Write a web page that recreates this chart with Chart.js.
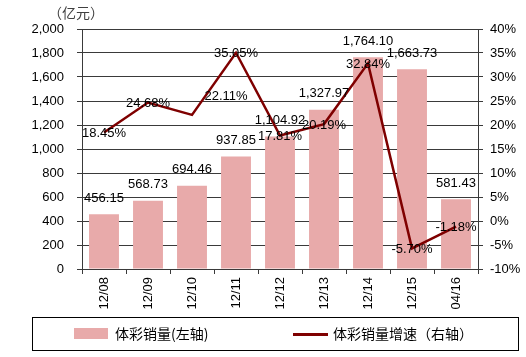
<!DOCTYPE html>
<html>
<head>
<meta charset="utf-8">
<script src="https://cdn.jsdelivr.net/npm/chart.js@4.4.0/dist/chart.umd.min.js"></script>
<style>
  html, body { margin: 0; padding: 0; background: #fff; }
  #wrap { width: 526px; height: 357px; position: relative; }
</style>
</head>
<body>
<div id="wrap"><canvas id="c" width="526" height="357"></canvas></div>
<script>
const categories = ['12/08', '12/09', '12/10', '12/11', '12/12', '12/13', '12/14', '12/15', '04/16'];
const salesValues = [456.15, 568.73, 694.46, 937.85, 1104.92, 1327.97, 1764.10, 1663.73, 581.43];
const growthValues = [18.45, 24.68, 22.11, 35.05, 17.81, 20.19, 32.84, -5.70, -1.18];
const leftAxisRange = [0, 2000, 200];
const rightAxisRange = [-10, 40, 5];
const unitLabel = '（亿元）';
const salesLabel = '体彩销量(左轴)';
const growthLabel = '体彩销量增速（右轴）';

const BAR_COLOR = '#E8AAAA';
const LINE_COLOR = '#7F0000';
const GRID_COLOR = '#3a3a3a';
const TEXT_FONT = '"Liberation Sans", Arial, sans-serif';
const CJK_FONT = '"Noto Sans CJK SC", sans-serif';

const numFmt = new Intl.NumberFormat('en-US', { minimumFractionDigits: 2, maximumFractionDigits: 2 });

const labelsPlugin = {
  id: 'customLabels',
  afterDatasetsDraw(chart, args, opts) {
    const ctx = chart.ctx;
    ctx.save();
    ctx.font = '13px ' + TEXT_FONT;
    ctx.fillStyle = '#000';
    ctx.textAlign = 'center';
    ctx.textBaseline = 'middle';
    const barMeta = chart.getDatasetMeta(0);
    barMeta.data.forEach((el, i) => {
      ctx.fillText(numFmt.format(chart.data.datasets[0].data[i]), el.x, el.y - 16);
    });
    const lineMeta = chart.getDatasetMeta(1);
    const offsets = opts.lineLabelOffsets || {};
    lineMeta.data.forEach((el, i) => {
      const off = offsets[i] || [0, 1];
      ctx.fillText(chart.data.datasets[1].data[i].toFixed(2) + '%', el.x + off[0], el.y + off[1]);
    });
    ctx.restore();
  },
  afterDraw(chart, args, opts) {
    const ctx = chart.ctx;
    ctx.save();
    // unit label
    ctx.font = '14px ' + CJK_FONT;
    ctx.fillStyle = '#404040';
    ctx.textAlign = 'left';
    ctx.textBaseline = 'middle';
    ctx.fillText(unitLabel, 48, 13);
    // legend box
    ctx.strokeStyle = '#000';
    ctx.lineWidth = 1;
    ctx.strokeRect(32.5, 317.5, 486, 33);
    const ds = chart.data.datasets;
    ctx.fillStyle = ds[0].backgroundColor;
    ctx.fillRect(74, 328, 34, 11);
    ctx.fillStyle = '#000';
    ctx.font = '14px ' + CJK_FONT;
    ctx.fillText(ds[0].label, 115, 334);
    ctx.strokeStyle = ds[1].borderColor;
    ctx.lineWidth = 3;
    ctx.beginPath();
    ctx.moveTo(293, 334.5);
    ctx.lineTo(328, 334.5);
    ctx.stroke();
    ctx.fillText(ds[1].label, 333, 334);
    ctx.restore();
  }
};

new Chart(document.getElementById('c'), {
  data: {
    labels: categories,
    datasets: [
      {
        type: 'bar',
        label: salesLabel,
        data: salesValues,
        yAxisID: 'y',
        backgroundColor: BAR_COLOR,
        borderWidth: 0,
        categoryPercentage: 1,
        barPercentage: 0.68,
        order: 2
      },
      {
        type: 'line',
        label: growthLabel,
        data: growthValues,
        yAxisID: 'y1',
        borderColor: LINE_COLOR,
        backgroundColor: LINE_COLOR,
        borderWidth: 2.5,
        pointRadius: 0,
        tension: 0,
        order: 1
      }
    ]
  },
  options: {
    responsive: false,
    animation: false,
    devicePixelRatio: 1,
    layout: { padding: { top: 29, left: 0, right: 0, bottom: 0 } },
    plugins: {
      legend: { display: false },
      tooltip: { enabled: false },
      customLabels: { lineLabelOffsets: { 2: [34, -18] } }
    },
    scales: {
      x: {
        type: 'category',
        offset: true,
        grid: { offset: true, drawOnChartArea: false, drawTicks: true, tickLength: 5, color: GRID_COLOR },
        border: { color: GRID_COLOR, width: 1 },
        ticks: { minRotation: 90, maxRotation: 90, padding: 3, color: '#000', font: { family: TEXT_FONT, size: 13 } },
        afterFit(scale) { scale.height = 88; }
      },
      y: {
        position: 'left',
        min: leftAxisRange[0],
        max: leftAxisRange[1],
        grid: { color: GRID_COLOR, lineWidth: 1, tickLength: 5 },
        border: { color: GRID_COLOR, width: 1 },
        ticks: {
          stepSize: leftAxisRange[2],
          padding: 13,
          color: '#000',
          font: { family: TEXT_FONT, size: 13 },
          callback: v => v.toLocaleString('en-US')
        },
        afterFit(scale) { scale.width = 82; }
      },
      y1: {
        position: 'right',
        min: rightAxisRange[0],
        max: rightAxisRange[1],
        grid: { drawOnChartArea: false, color: GRID_COLOR, tickLength: 5 },
        border: { color: GRID_COLOR, width: 1 },
        ticks: {
          stepSize: rightAxisRange[2],
          padding: 7,
          color: '#000',
          font: { family: TEXT_FONT, size: 13 },
          callback: v => v + '%'
        },
        afterFit(scale) { scale.width = 48; }
      }
    }
  },
  plugins: [labelsPlugin]
});
</script>
</body>
</html>
